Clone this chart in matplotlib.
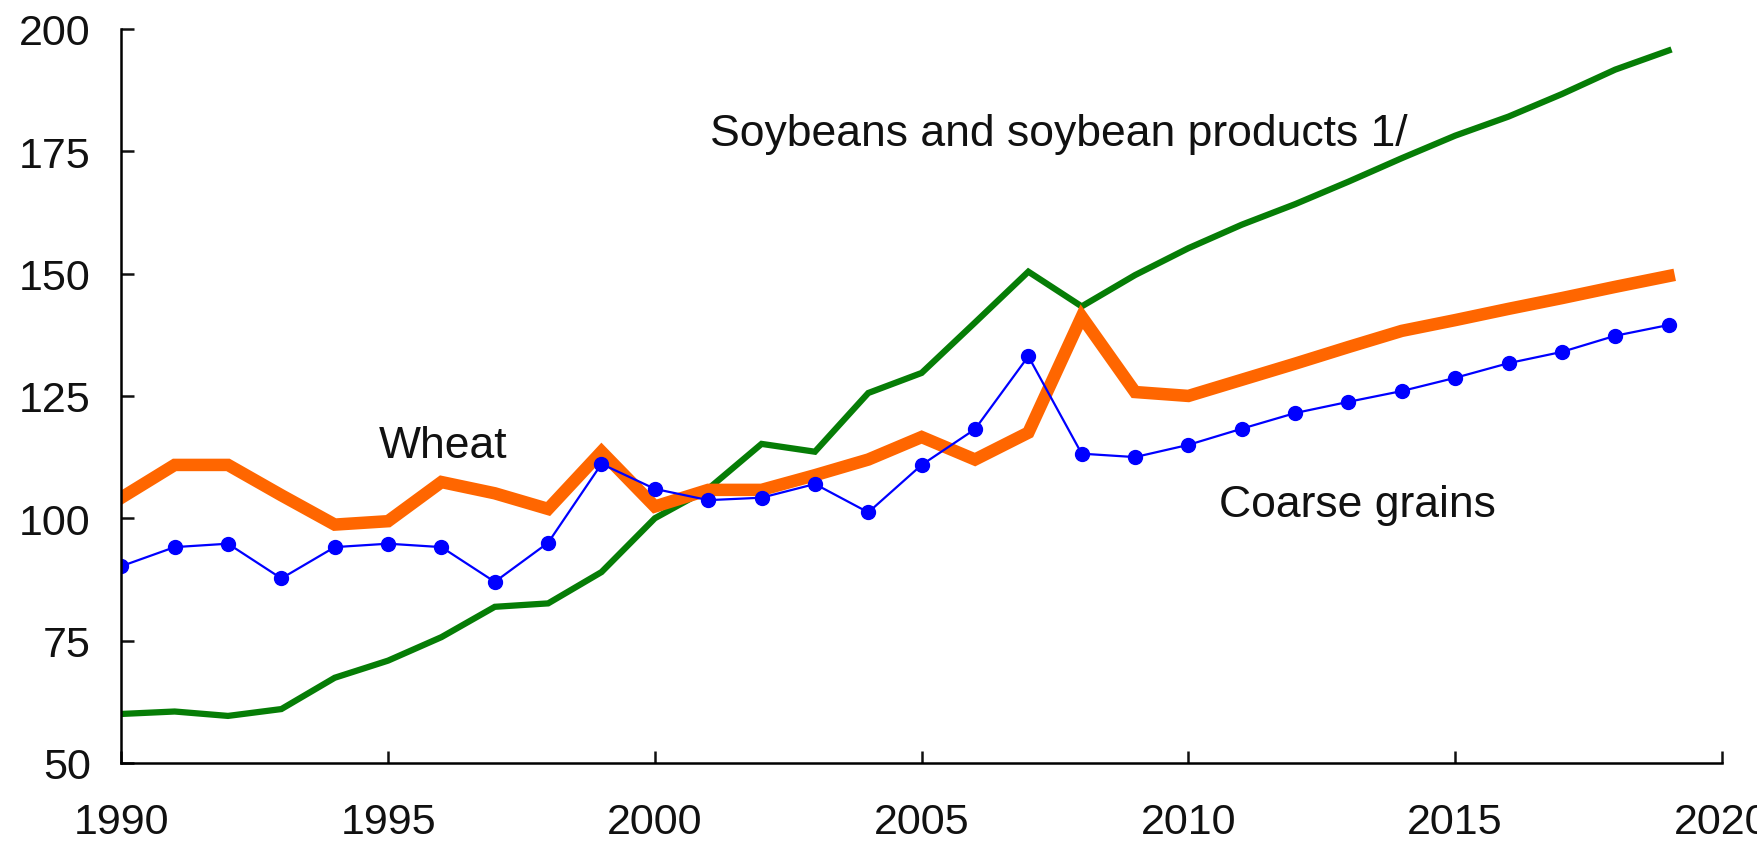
import matplotlib
matplotlib.use("Agg")
import matplotlib.pyplot as plt

years = list(range(1990, 2020))
soybeans = [60, 60.5, 59.6, 61, 67.4, 70.9, 75.7, 81.9, 82.6, 89,
            100, 106, 115.2, 113.6, 125.6, 129.7, 140, 150.4, 143.3, 149.7,
            155.2, 160, 164.2, 168.8, 173.6, 178.2, 182.1, 186.7, 191.7, 195.6]
wheat = [104.2, 110.9, 110.9, 104.7, 98.7, 99.4, 107.4, 105.1, 101.9, 113.6,
         102.4, 105.8, 105.8, 108.8, 112, 116.6, 112, 117.5, 141.2, 125.8,
         125.0, 128.3, 131.6, 135.0, 138.3, 140.5, 142.8, 145.0, 147.3, 149.5]
coarse = [90.2, 94.1, 94.8, 87.7, 94.1, 94.8, 94.1, 87, 95, 111.1,
          106, 103.7, 104.2, 107, 101.2, 110.9, 118.2, 133.1, 113.2, 112.5,
          115.0, 118.3, 121.5, 123.8, 126.0, 128.7, 131.7, 134.0, 137.3, 139.5]
xticks = [1990, 1995, 2000, 2005, 2010, 2015, 2020]
yticks = [50, 75, 100, 125, 150, 175, 200]

plt.rcParams['font.family'] = ['Liberation Sans', 'DejaVu Sans']

fig = plt.figure(figsize=(17.58, 8.45), dpi=100)
ax = fig.add_axes([0.069, 0.096, 0.9105, 0.8685])

ax.plot(years, soybeans, color='#067d06', lw=4.5, solid_joinstyle='miter')
ax.plot(years, wheat, color='#ff6600', lw=9, solid_joinstyle='miter')
ax.plot(years, coarse, color='#0000ff', lw=1.6, marker='o', ms=10)

ax.text(2001.03, 178.6, 'Soybeans and soybean products 1/', fontsize=32, va='center', ha='left', color='#111111')
ax.text(1994.82, 114.8, 'Wheat', fontsize=32, va='center', ha='left', color='#111111')
ax.text(2010.57, 102.8, 'Coarse grains', fontsize=32, va='center', ha='left', color='#111111')

ax.set_xlim(1990, 2020)
ax.set_ylim(50, 200)
ax.set_xticks(xticks)
ax.set_yticks(yticks)
for s in ['top', 'right']:
    ax.spines[s].set_visible(False)
for s in ['left', 'bottom']:
    ax.spines[s].set_linewidth(1.8)
ax.tick_params(axis='both', direction='in', length=9, width=1.8, labelsize=31, colors='#111111')
ax.tick_params(axis='y', pad=22)
ax.tick_params(axis='x', pad=28)
for lab in ax.get_xticklabels():
    lab.set_clip_on(False)

fig.savefig('out.png', dpi=100)
